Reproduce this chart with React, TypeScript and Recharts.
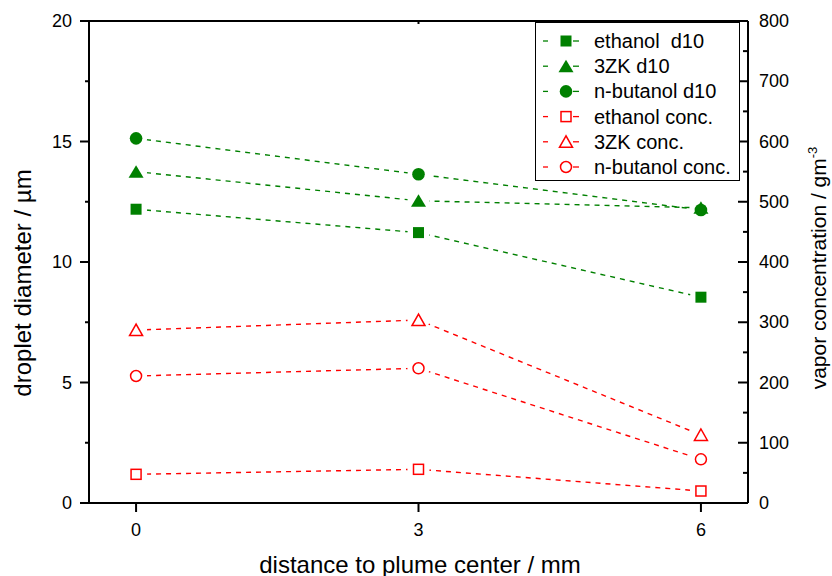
import { LineChart, Line, XAxis, YAxis } from 'recharts'

// distance to plume center (mm)
const distance = [0, 3, 6]

// droplet diameter d10 (µm), left axis
const ethanolD10 = [12.19, 11.22, 8.54]
const zkD10 = [13.75, 12.54, 12.25]
const butanolD10 = [15.13, 13.64, 12.16]

// vapor concentration (g m^-3), right axis
const ethanolConc = [47.6, 55.9, 19.9]
const zkConc = [287, 303.7, 112.9]
const butanolConc = [210.8, 223.6, 72.5]

const bottomTicks = [0, 3, 6]
const topTicks = [0, 1, 2, 3, 4]
const leftTicks = [0, 2.5, 5, 7.5, 10, 12.5, 15, 17.5, 20]
const rightTicks = [0, 50, 100, 150, 200, 250, 300, 350, 400, 450, 500, 550, 600, 650, 700, 750, 800]

const GREEN = '#008000'
const RED = '#ff0000'
const FONT = '"Liberation Sans", Arial, Helvetica, sans-serif'

type Shape = 'square' | 'triangle' | 'circle'

interface Series {
  key: string
  name: string
  axis: 'left' | 'right'
  color: string
  shape: Shape
  filled: boolean
  values: number[]
}

const series: Series[] = [
  { key: 'ethanolD10', name: 'ethanol  d10', axis: 'left', color: GREEN, shape: 'square', filled: true, values: ethanolD10 },
  { key: 'zkD10', name: '3ZK d10', axis: 'left', color: GREEN, shape: 'triangle', filled: true, values: zkD10 },
  { key: 'butanolD10', name: 'n-butanol d10', axis: 'left', color: GREEN, shape: 'circle', filled: true, values: butanolD10 },
  { key: 'ethanolConc', name: 'ethanol conc.', axis: 'right', color: RED, shape: 'square', filled: false, values: ethanolConc },
  { key: 'zkConc', name: '3ZK conc.', axis: 'right', color: RED, shape: 'triangle', filled: false, values: zkConc },
  { key: 'butanolConc', name: 'n-butanol conc.', axis: 'right', color: RED, shape: 'circle', filled: false, values: butanolConc },
]

const data = distance.map((x, i) => {
  const row: Record<string, number> = { x }
  series.forEach((s) => {
    row[s.key] = s.values[i]
  })
  return row
})

function Marker({ cx, cy, s }: { cx: number; cy: number; s: Series }) {
  const fill = s.filled ? s.color : '#fff'
  const sw = s.filled ? 0 : 1.5
  if (s.shape === 'square') {
    const h = s.filled ? 5.5 : 5
    return <rect x={cx - h} y={cy - h} width={h * 2} height={h * 2} fill={fill} stroke={s.color} strokeWidth={sw} />
  }
  if (s.shape === 'triangle') {
    const pts = s.filled
      ? `${cx},${cy - 6.5} ${cx - 7.5},${cy + 6} ${cx + 7.5},${cy + 6}`
      : `${cx},${cy - 6} ${cx - 6.5},${cy + 5.5} ${cx + 6.5},${cy + 5.5}`
    return <polygon points={pts} fill={fill} stroke={s.color} strokeWidth={sw} strokeLinejoin="miter" />
  }
  return <circle cx={cx} cy={cy} r={s.filled ? 6.3 : 5.5} fill={fill} stroke={s.color} strokeWidth={sw} />
}

const tickText = { fontSize: 18, fontFamily: FONT, fill: '#000' }

const BottomTick = (props: any) => {
  const { x, y, payload } = props
  return (
    <g>
      <line x1={x} x2={x} y1={y} y2={y + 9} stroke="#000" strokeWidth={2} />
      <text x={x} y={y + 27} textAnchor="middle" dominantBaseline="central" {...tickText}>
        {payload.value}
      </text>
    </g>
  )
}

const TopTick = (props: any) => {
  const { x, y, payload } = props
  const major = payload.value % 2 === 0
  return <line x1={x} x2={x} y1={y} y2={y + (major ? 8 : 3)} stroke="#000" strokeWidth={2} />
}

const LeftTick = (props: any) => {
  const { x, y, payload } = props
  const major = payload.value % 5 === 0
  return (
    <g>
      <line x1={x} x2={x - (major ? 9 : 4)} y1={y} y2={y} stroke="#000" strokeWidth={2} />
      {major && (
        <text x={x - 17} y={y} textAnchor="end" dominantBaseline="central" {...tickText}>
          {payload.value}
        </text>
      )}
    </g>
  )
}

const RightTick = (props: any) => {
  const { x, y, payload } = props
  const major = payload.value % 100 === 0
  return (
    <g>
      <line x1={x} x2={x - (major ? 10 : 5)} y1={y} y2={y} stroke="#000" strokeWidth={2} />
      {major && (
        <text x={x + 11} y={y} textAnchor="start" dominantBaseline="central" {...tickText}>
          {payload.value}
        </text>
      )}
    </g>
  )
}

function LegendBox() {
  return (
    <svg width={206} height={160} style={{ position: 'absolute', left: 535, top: 22 }}>
      <rect x={0.5} y={0.5} width={204} height={158} fill="#fff" stroke="#000" strokeWidth={1} />
      {series.map((s, i) => {
        const cy = 19 + i * 25.2
        return (
          <g key={s.key}>
            <line x1={8} x2={13} y1={cy} y2={cy} stroke={s.color} strokeWidth={1.3} />
            <line x1={38} x2={44} y1={cy} y2={cy} stroke={s.color} strokeWidth={1.3} />
            <Marker cx={31} cy={cy} s={s} />
            <text x={59} y={cy} dominantBaseline="central" fontSize={20} fontFamily={FONT} style={{ whiteSpace: 'pre' }}>
              {s.name}
            </text>
          </g>
        )
      })}
    </svg>
  )
}

export default function App() {
  const axisLine = { stroke: '#000', strokeWidth: 2 }
  return (
    <div style={{ position: 'absolute', left: 0, top: 0, width: 832, height: 576, background: '#fff', fontFamily: FONT }}>
      <LineChart width={832} height={576} data={data} margin={{ top: 20, right: 83, bottom: 72, left: 88 }}>
        <XAxis
          xAxisId="bottom"
          dataKey="x"
          type="number"
          domain={[-0.5, 6.5]}
          ticks={bottomTicks}
          interval={0}
          height={1}
          tickSize={0}
          tickMargin={0}
          tickLine={false}
          tick={BottomTick}
          axisLine={axisLine}
        />
        <XAxis
          xAxisId="top"
          orientation="top"
          type="number"
          domain={[0, 4.336]}
          allowDataOverflow
          ticks={topTicks}
          interval={0}
          height={1}
          tickSize={0}
          tickMargin={0}
          tickLine={false}
          tick={TopTick}
          axisLine={axisLine}
        />
        <YAxis
          yAxisId="left"
          type="number"
          domain={[0, 20]}
          ticks={leftTicks}
          interval={0}
          width={1}
          tickSize={0}
          tickMargin={0}
          tickLine={false}
          tick={LeftTick}
          axisLine={axisLine}
        />
        <YAxis
          yAxisId="right"
          orientation="right"
          type="number"
          domain={[0, 800]}
          ticks={rightTicks}
          interval={0}
          width={1}
          tickSize={0}
          tickMargin={0}
          tickLine={false}
          tick={RightTick}
          axisLine={axisLine}
        />

        {/* dashed connecting lines */}
        {series.map((s) => (
          <Line
            key={`${s.key}-line`}
            xAxisId="bottom"
            yAxisId={s.axis}
            dataKey={s.key}
            stroke={s.color}
            strokeWidth={1.4}
            strokeDasharray="5 5"
            dot={false}
            activeDot={false}
            isAnimationActive={false}
          />
        ))}
        {/* white gap around each symbol, as in the original plot */}
        {series.map((s) => (
          <Line
            key={`${s.key}-gap`}
            xAxisId="bottom"
            yAxisId={s.axis}
            dataKey={s.key}
            stroke="none"
            dot={(p: any) => <circle key={`${s.key}-gap-${p.index}`} cx={p.cx} cy={p.cy} r={11} fill="#fff" />}
            activeDot={false}
            isAnimationActive={false}
          />
        ))}
        {series.map((s) => (
          <Line
            key={`${s.key}-sym`}
            xAxisId="bottom"
            yAxisId={s.axis}
            dataKey={s.key}
            name={s.name}
            stroke="none"
            dot={(p: any) => (
              <g key={`${s.key}-sym-${p.index}`}>
                <Marker cx={p.cx} cy={p.cy} s={s} />
              </g>
            )}
            activeDot={false}
            isAnimationActive={false}
          />
        ))}
      </LineChart>

      <svg width={832} height={576} style={{ position: 'absolute', left: 0, top: 0, pointerEvents: 'none' }}>
        <text x={420} y={573} textAnchor="middle" fontSize={24} fontFamily={FONT}>
          distance to plume center / mm
        </text>
        <text transform="translate(31, 283) rotate(-90)" textAnchor="middle" fontSize={24} fontFamily={FONT}>
          droplet diameter / µm
        </text>
        <text transform="translate(826, 268) rotate(-90)" textAnchor="middle" fontSize={21} fontFamily={FONT}>
          vapor concentration / gm
          <tspan dy={-9} fontSize={13}>
            -3
          </tspan>
        </text>
      </svg>

      <LegendBox />
    </div>
  )
}
